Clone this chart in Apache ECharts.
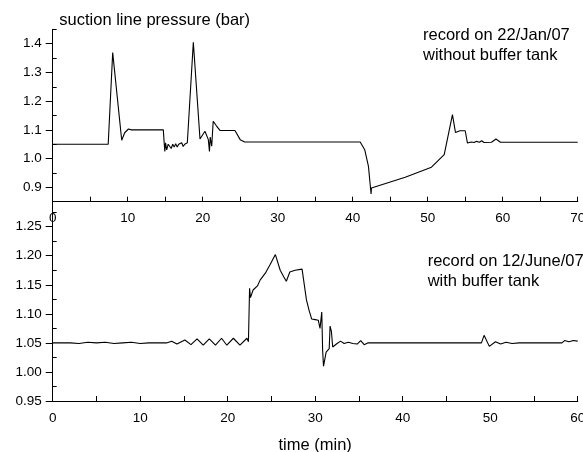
<!DOCTYPE html>
<html>
<head>
<meta charset="utf-8">
<script src="https://cdn.jsdelivr.net/npm/echarts@6/dist/echarts.min.js"></script>
<style>
  html, body { margin: 0; padding: 0; background: #fff; }
  #chart { width: 583px; height: 452px; }
</style>
</head>
<body>
<div id="chart"></div>
<script>
// record on 22/Jan/07, without buffer tank (time in min, pressure in bar)
const janTime = [0, 7.4, 8.0, 9.2, 9.6, 10.1, 10.5, 14.75, 14.85, 14.95, 15.05, 15.2, 15.4, 15.6, 15.8, 16.0, 16.2, 16.4, 16.6, 16.8, 17.0, 17.2, 17.4, 17.6, 17.8, 17.95, 18.1, 18.75, 19.64, 20.3, 20.75, 20.9, 21.0, 21.2, 21.4, 21.8, 22.3, 24.3, 25.0, 25.6, 41.0, 41.6, 42.1, 42.45, 42.5, 47.0, 50.5, 52.2, 53.3, 53.7, 54.3, 55.0, 55.3, 55.8, 56.2, 56.5, 56.9, 57.2, 57.5, 58.5, 59.1, 59.7, 70];
const janPressure = [1.05, 1.05, 1.369, 1.064, 1.09, 1.103, 1.10, 1.10, 1.06, 1.025, 1.055, 1.03, 1.05, 1.045, 1.035, 1.05, 1.04, 1.052, 1.04, 1.05, 1.045, 1.055, 1.042, 1.05, 1.045, 1.055, 1.06, 1.405, 1.068, 1.095, 1.066, 1.025, 1.075, 1.043, 1.13, 1.115, 1.098, 1.098, 1.066, 1.058, 1.058, 1.031, 0.973, 0.877, 0.898, 0.935, 0.970, 1.014, 1.153, 1.091, 1.097, 1.097, 1.054, 1.058, 1.056, 1.060, 1.057, 1.062, 1.056, 1.057, 1.068, 1.057, 1.057];

// record on 12/June/07, with buffer tank
const junTime = [0, 2, 3, 4, 5, 6, 7, 8, 9, 10, 11, 12, 13, 13.6, 14.2, 15.1, 15.8, 16.5, 17.2, 17.9, 18.6, 19.3, 19.9, 20.65, 21.4, 22.2, 22.37, 22.5, 22.6, 22.9, 23.4, 23.7, 24.3, 24.85, 25.45, 26.0, 26.4, 26.7, 26.9, 27.1, 27.7, 28.5, 28.65, 29.0, 29.3, 29.6, 30.0, 30.35, 30.55, 30.75, 30.85, 30.95, 31.25, 31.6, 31.7, 31.85, 32.0, 32.5, 32.9, 33.3, 33.8, 34.3, 34.8, 35.2, 35.6, 36, 49.0, 49.3, 49.9, 50.6, 51.2, 51.8, 52.5, 53.3, 58.2, 58.5, 59.0, 59.5, 60];
const junPressure = [1.05, 1.05, 1.049, 1.051, 1.05, 1.051, 1.049, 1.05, 1.051, 1.049, 1.05, 1.05, 1.05, 1.053, 1.048, 1.055, 1.047, 1.057, 1.046, 1.057, 1.046, 1.058, 1.046, 1.058, 1.046, 1.058, 1.052, 1.144, 1.128, 1.141, 1.148, 1.158, 1.170, 1.185, 1.202, 1.175, 1.164, 1.156, 1.156, 1.172, 1.175, 1.177, 1.161, 1.124, 1.106, 1.091, 1.090, 1.089, 1.075, 1.103, 1.037, 1.010, 1.034, 1.040, 1.079, 1.070, 1.043, 1.049, 1.053, 1.049, 1.051, 1.049, 1.048, 1.054, 1.047, 1.05, 1.05, 1.063, 1.044, 1.052, 1.048, 1.051, 1.049, 1.05, 1.05, 1.054, 1.052, 1.054, 1.053];

// tick labels
const topMajorTicks = [0.9, 1.0, 1.1, 1.2, 1.3, 1.4];
const topMinorTicks = [0.85, 0.95, 1.05, 1.15, 1.25, 1.35, 1.45];
const bottomMajorTicks = [0.95, 1.0, 1.05, 1.1, 1.15, 1.2, 1.25];
const bottomMinorTicks = [0.975, 1.025, 1.075, 1.125, 1.175, 1.225, 1.275];
const topTimeLabels = [0, 10, 20, 30, 40, 50, 60, 70];
const bottomTimeLabels = [0, 10, 20, 30, 40, 50, 60];

const font = "'Liberation Sans', Arial, sans-serif";
const black = "#000";

function zip (xs, ys) {
  return xs.map((x, i) => [x, ys[i]]);
}

function xAxisFor (gridIndex, max, labels) {
  return {
    type: "value",
    gridIndex,
    min: 0,
    max,
    interval: 5,
    axisLine: { show: true, onZero: false, lineStyle: { color: black, width: 1 } },
    axisTick: { show: true, inside: true, length: 5, lineStyle: { color: black } },
    axisLabel: {
      customValues: labels,
      color: black,
      fontSize: 13.5,
      fontFamily: font,
      margin: 10,
    },
    splitLine: { show: false },
  };
}

function yAxisFor (gridIndex, min, max, ticks, digits) {
  return {
    type: "value",
    gridIndex,
    min,
    max,
    axisLine: { show: true, onZero: false, lineStyle: { color: black, width: 1 } },
    axisTick: { show: true, customValues: ticks, length: 7, lineStyle: { color: black } },
    axisLabel: {
      customValues: ticks,
      color: black,
      fontSize: 13.5,
      fontFamily: font,
      margin: 11,
      formatter: (v) => v.toFixed(digits),
    },
    splitLine: { show: false },
  };
}

function minorYAxis (gridIndex, min, max, ticks) {
  return {
    type: "value",
    gridIndex,
    min,
    max,
    axisLine: { show: false },
    axisTick: { show: true, customValues: ticks, length: 4, lineStyle: { color: black } },
    axisLabel: { show: false },
    splitLine: { show: false },
  };
}

function note (x, y, text) {
  return {
    type: "text",
    x,
    y,
    style: {
      text,
      fill: black,
      fontSize: 16.5,
      fontFamily: font,
      verticalAlign: "middle",
    },
  };
}

const chart = echarts.init(document.getElementById("chart"));

const option = {
  backgroundColor: "#fff",
  animation: false,
  grid: [
    { left: 52.7, top: 29.3, width: 525, height: 172.4, containLabel: false, outerBoundsMode: "none" },
    { left: 52.7, top: 202, width: 525, height: 199, containLabel: false, outerBoundsMode: "none" },
  ],
  xAxis: [
    xAxisFor(0, 70, topTimeLabels),
    Object.assign(xAxisFor(1, 60, bottomTimeLabels), {
      name: "time (min)",
      nameLocation: "middle",
      nameGap: 36,
      nameTextStyle: { color: black, fontSize: 16.5, fontFamily: font },
    }),
  ],
  yAxis: [
    yAxisFor(0, 0.85, 1.45, topMajorTicks, 1),
    minorYAxis(0, 0.85, 1.45, topMinorTicks),
    yAxisFor(1, 0.95, 1.2925, bottomMajorTicks, 2),
    minorYAxis(1, 0.95, 1.2925, bottomMinorTicks),
  ],
  graphic: [
    note(59.3, 20, "suction line pressure (bar)"),
    note(423, 35, "record on 22/Jan/07"),
    note(423, 55, "without buffer tank"),
    note(427.7, 261.7, "record on 12/June/07"),
    note(427.7, 281.7, "with buffer tank"),
  ],
  series: [
    {
      type: "line",
      xAxisIndex: 0,
      yAxisIndex: 0,
      data: zip(janTime, janPressure),
      showSymbol: false,
      lineStyle: { color: black, width: 1.1 },
    },
    {
      type: "line",
      xAxisIndex: 1,
      yAxisIndex: 2,
      data: zip(junTime, junPressure),
      showSymbol: false,
      lineStyle: { color: black, width: 1.1 },
    },
  ],
};

chart.setOption(option);
</script>
</body>
</html>
